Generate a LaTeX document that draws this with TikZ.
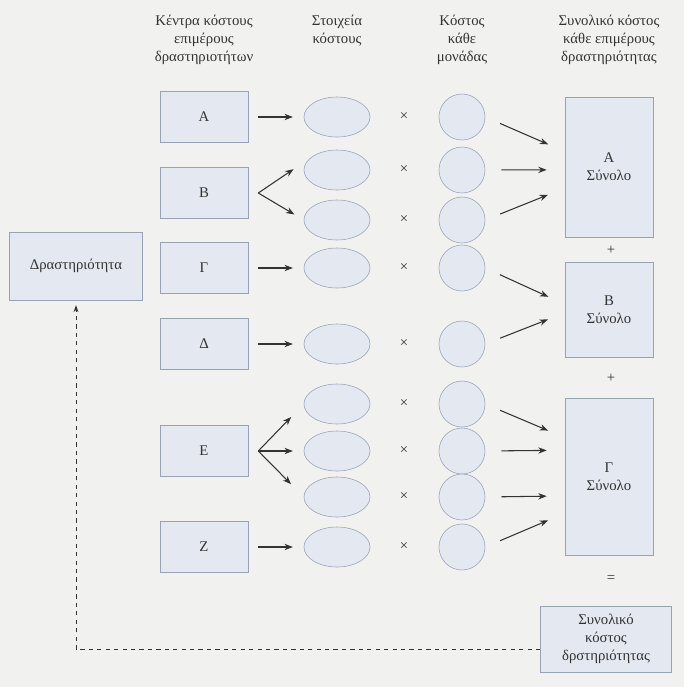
\documentclass[tikz,border=0pt]{standalone}
\usepackage{fontspec}
\setmainfont{Liberation Serif}
\usetikzlibrary{arrows.meta, shapes.geometric, calc}
\definecolor{paper}{HTML}{F1F1F0}
\definecolor{boxfill}{HTML}{E3E8F1}
\definecolor{boxline}{HTML}{99A2B4}
\definecolor{ink}{HTML}{333333}

\begin{document}
\begin{tikzpicture}[x=0.025cm, y=-0.025cm, font=\fontsize{10.5}{12.8}\selectfont,
  every node/.style={text=ink},
  centrebox/.style={draw=boxline, fill=boxfill, minimum width=2.2cm, minimum height=1.275cm},
  elem/.style={ellipse, draw=boxline, fill=boxfill, minimum width=1.65cm, minimum height=1cm},
  unitcost/.style={circle, draw=boxline, fill=boxfill, minimum size=1.15cm},
  sumbox/.style={draw=boxline, fill=boxfill, minimum width=2.2cm, align=center},
  head/.style={align=center, anchor=north},
  flow/.style={-{Stealth[length=6pt,width=4.5pt]}, draw=ink, line width=0.75pt}]

	% paper
	\fill[paper] (0,0) rectangle (684,687);

	% column headings
	\node[head] (h1) at (204,10) {Κέντρα κόστους\\επιμέρους\\δραστηριοτήτων};
	\node[head] (h2) at (337,10) {Στοιχεία\\κόστους};
	\node[head] (h3) at (462,10) {Κόστος\\κάθε\\μονάδας};
	\node[head] (h4) at (609,10) {Συνολικό κόστος\\κάθε επιμέρους\\δραστηριότητας};

	% cost centres
	\foreach \n/\t/\y in {A/Α/117, B/Β/193, G/Γ/268, D/Δ/344, E/Ε/451, Z/Ζ/547}
		\node[centrebox] (\n) at (204,\y) {\t};

	% cost elements, times, unit costs
	\foreach \i/\y in {1/117, 2/170, 3/220, 4/268, 5/344, 6/404, 7/451, 8/497, 9/547} {
		\node[elem] (e\i) at (337,\y) {};
		\node (x\i) at (404,\y) {×};
		\node[unitcost] (u\i) at (462,\y) {};
	}

	% totals per activity
	\node[sumbox, minimum height=3.5cm] (RA) at (609,167) {Α\\Σύνολο};
	\node (p1) at (611,250) {+};
	\node[sumbox, minimum height=2.375cm] (RB) at (609,310) {Β\\Σύνολο};
	\node (p2) at (611,378) {+};
	\node[sumbox, minimum height=3.925cm] (RG) at (609,477) {Γ\\Σύνολο};
	\node (eq) at (611,579) {=};
	\node[sumbox, minimum width=3.275cm, minimum height=1.65cm] (tot) at (606,639) {Συνολικό\\κόστος\\δρστηριότητας};

	\node[draw=boxline, fill=boxfill, minimum width=3.325cm, minimum height=1.7cm] (act) at (76,266) {Δραστηριότητα};

	% centres to elements
	\foreach \n/\e in {A/1, G/4, D/5, Z/9}
		\draw[flow, shorten <=0.25cm, shorten >=0.27cm] (\n.east) -- (e\e.west);
	\coordinate (fanB) at ([xshift=0.25cm]B.east);
	\draw[flow, shorten >=0.6cm] (fanB) -- (e2.north west);
	\draw[flow, shorten >=0.27cm] (fanB) -- (e3.west);
	\coordinate (fanE) at ([xshift=0.25cm]E.east);
	\draw[flow, shorten >=0.45cm] (fanE) -- (e6.west);
	\draw[flow, shorten >=0.27cm] (fanE) -- (e7.west);
	\draw[flow, shorten >=0.45cm] (fanE) -- (e8.west);

	% unit costs to totals
	\foreach \u/\r/\f in {1/RA/0.39, 2/RA/0.52, 3/RA/0.65, 4/RB/0.44, 5/RB/0.53, 6/RG/0.25, 7/RG/0.33, 8/RG/0.62, 9/RG/0.73}
		\draw[flow, shorten <=0.4cm, shorten >=0.45cm] (u\u.east) -- ($(\r.north west)!\f!(\r.south west)$);

	% feedback to the activity
	\coordinate (back) at ([yshift=-0.25cm]tot.west);
	\draw[draw=ink, line width=0.7pt, dash pattern=on 3pt off 3pt, -{Stealth[length=5pt,width=3.5pt]}, shorten >=0.12cm]
		(back) -- (back -| act.south) -- (act.south);
\end{tikzpicture}
\end{document}
